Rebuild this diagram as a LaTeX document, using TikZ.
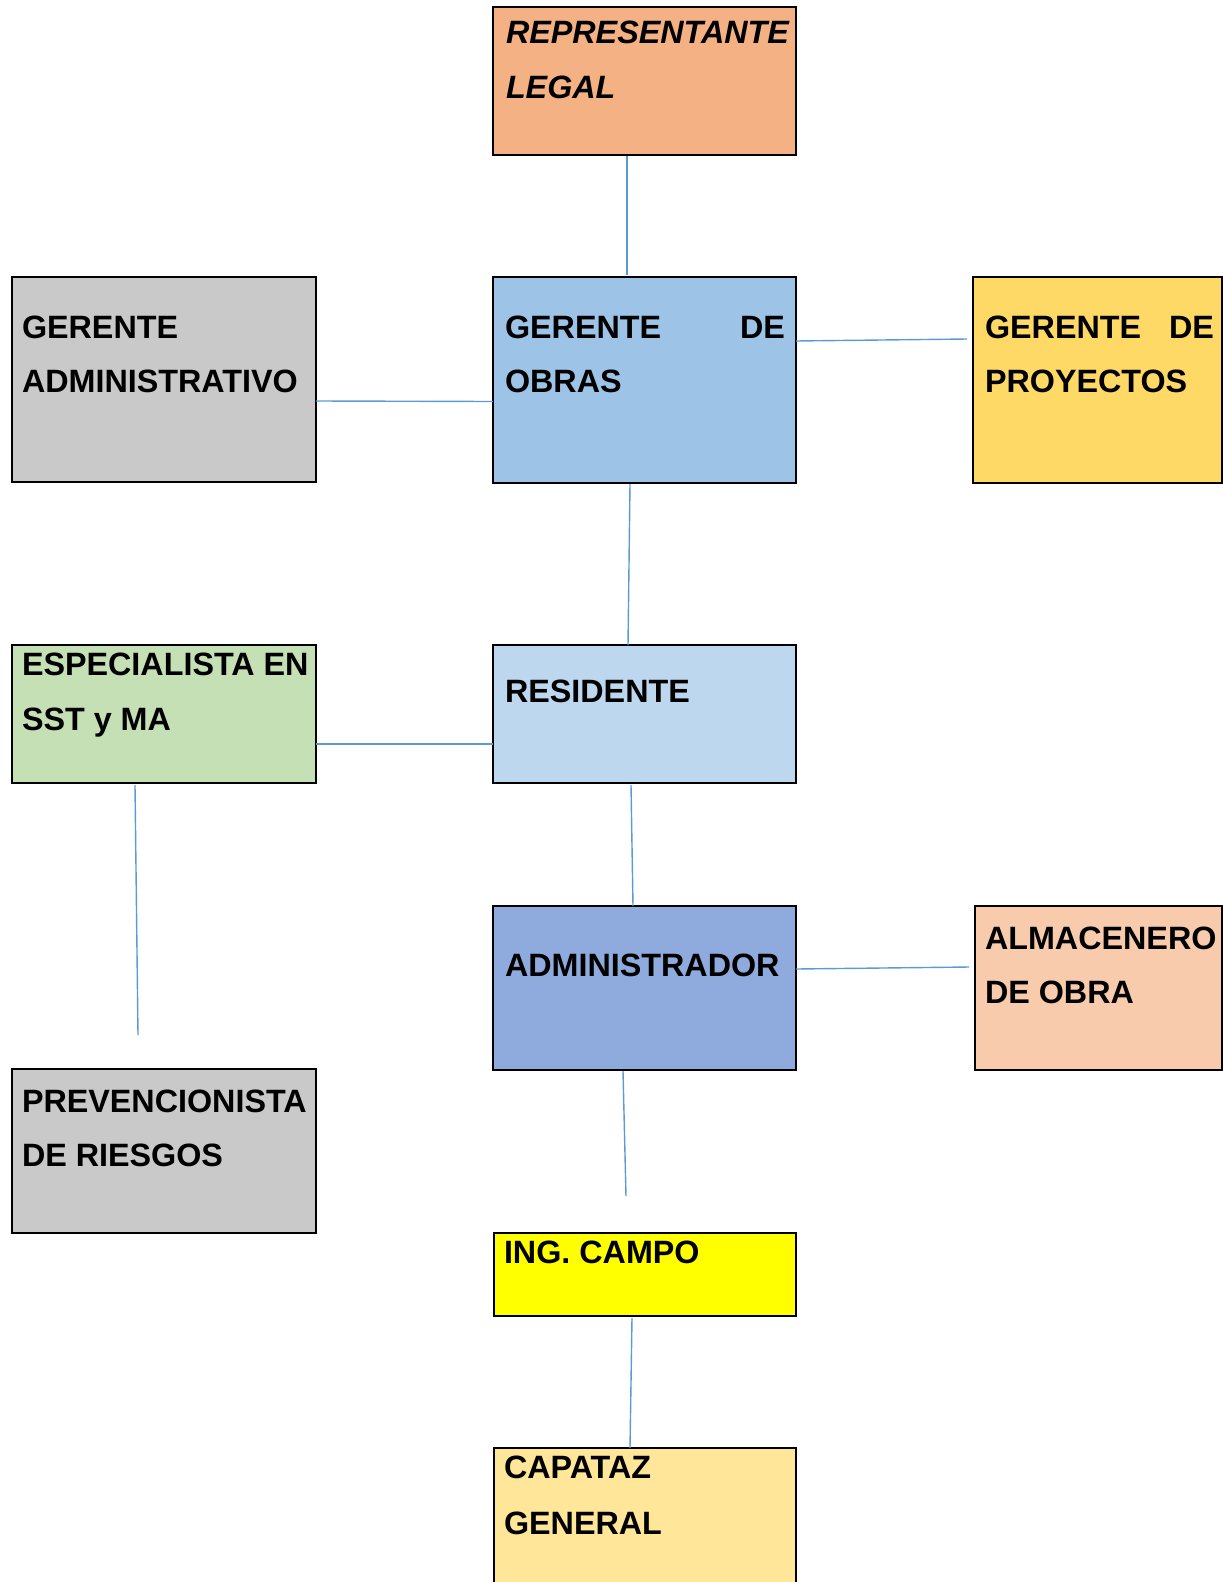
\documentclass[tikz,border=0pt]{standalone}
\usepackage{fontspec}
\setmainfont{Liberation Sans}
\definecolor{cRep}{HTML}{F4B183}
\definecolor{cGrey}{HTML}{C9C9C9}
\definecolor{cGdo}{HTML}{9DC3E6}
\definecolor{cGdp}{HTML}{FFD966}
\definecolor{cEsp}{HTML}{C5E0B4}
\definecolor{cRes}{HTML}{BDD7EE}
\definecolor{cAdm}{HTML}{8FAADC}
\definecolor{cAlm}{HTML}{F8CBAD}
\definecolor{cIng}{HTML}{FFFF00}
\definecolor{cCap}{HTML}{FFE699}
\definecolor{cLine}{HTML}{5B9BD5}
\begin{document}
\begin{tikzpicture}[x=1pt,y=-1pt,
  box/.style={draw=black, line width=2.3pt, anchor=north west, inner sep=0pt, outer sep=0pt},
  txt/.style={anchor=north west, inner sep=0pt, outer sep=0pt, align=left,
    font=\fontsize{32.3}{54}\selectfont\bfseries},
  conn/.style={draw=cLine, line width=1.4pt}]
\useasboundingbox (0,0) rectangle (1223,1582);
\clip (0,0) rectangle (1223,1582);
% boxes
\node[box, fill=cRep, minimum width=303pt, minimum height=148pt] (rep) at (493,7) {};
\node[box, fill=cGrey, minimum width=304pt, minimum height=205pt] (gadm) at (12,277) {};
\node[box, fill=cGdo, minimum width=303pt, minimum height=206pt] (gdo) at (493,277) {};
\node[box, fill=cGdp, minimum width=249pt, minimum height=206pt] (gdp) at (973,277) {};
\node[box, fill=cEsp, minimum width=304pt, minimum height=138pt] (espec) at (12,645) {};
\node[box, fill=cRes, minimum width=303pt, minimum height=138pt] (res) at (493,645) {};
\node[box, fill=cAdm, minimum width=303pt, minimum height=164pt] (admin) at (493,906) {};
\node[box, fill=cAlm, minimum width=247pt, minimum height=164pt] (alm) at (975,906) {};
\node[box, fill=cGrey, minimum width=304pt, minimum height=164pt] (prev) at (12,1069) {};
\node[box, fill=cIng, minimum width=302pt, minimum height=83pt] (ing) at (494,1233) {};
\node[box, fill=cCap, minimum width=302pt, minimum height=160pt] (cap) at (494,1448) {};
% texts
\node[txt, font=\fontsize{32.3}{55}\selectfont\bfseries\itshape] (t-rep) at (506,20.8) {REPRESENTANTE\\LEGAL};
\node[txt] (t-gadm) at (22,315.8) {GERENTE\\ADMINISTRATIVO};
\node[txt] (t-gdo) at (505,315.8) {\hbox to 280pt{GERENTE\hfill DE}\\OBRAS};
\node[txt] (t-gdp) at (985,315.8) {\hbox to 229pt{GERENTE\hfill DE}\\PROYECTOS};
\node[txt, font=\fontsize{32.3}{55}\selectfont\bfseries] (t-espec) at (22,652.8) {ESPECIALISTA EN\\SST y MA};
\node[txt] (t-res) at (505,679.8) {RESIDENTE};
\node[txt] (t-admin) at (505,953.8) {ADMINISTRADOR};
\node[txt] (t-alm) at (985,926.8) {ALMACENERO\\DE OBRA};
\node[txt] (t-prev) at (22,1089.8) {PREVENCIONISTA\\DE RIESGOS};
\node[txt] (t-ing) at (504,1240.8) {ING. CAMPO};
\node[txt, font=\fontsize{32.3}{56}\selectfont\bfseries] (t-cap) at (504,1455.8) {CAPATAZ\\GENERAL};
% free ends
\coordinate (gdp-in) at ([xshift=-6pt,yshift=41pt]gdp.west);
\coordinate (alm-in) at ([xshift=-6pt,yshift=21pt]alm.west);
\coordinate (prev-in) at ([xshift=-26pt,yshift=34pt]prev.north);
\coordinate (ing-in) at ([xshift=-19pt,yshift=37pt]ing.north);
% connectors
\draw[conn] ([xshift=-17.5pt,yshift=-1pt]rep.south) -- ([xshift=-17.5pt,yshift=2pt]gdo.north);
\draw[conn] ([yshift=-21.5pt]gadm.east) -- ([yshift=-21.5pt]gdo.west);
\draw[conn] ([yshift=39pt]gdo.east) -- (gdp-in);
\draw[conn] ([xshift=-14.5pt,yshift=-1pt]gdo.south) -- ([xshift=-16.5pt]res.north);
\draw[conn] ([yshift=-30pt]espec.east) -- ([yshift=-30pt]res.west);
\draw[conn] ([xshift=-13.5pt,yshift=-2pt]res.south) -- ([xshift=-11.5pt]admin.north);
\draw[conn] ([yshift=19pt]admin.east) -- (alm-in);
\draw[conn] ([xshift=-29pt,yshift=-2pt]espec.south) -- (prev-in);
\draw[conn] ([xshift=-21.5pt,yshift=-1pt]admin.south) -- (ing-in);
\draw[conn] ([xshift=-13pt,yshift=-2pt]ing.south) -- ([xshift=-15pt]cap.north);
\end{tikzpicture}
\end{document}
